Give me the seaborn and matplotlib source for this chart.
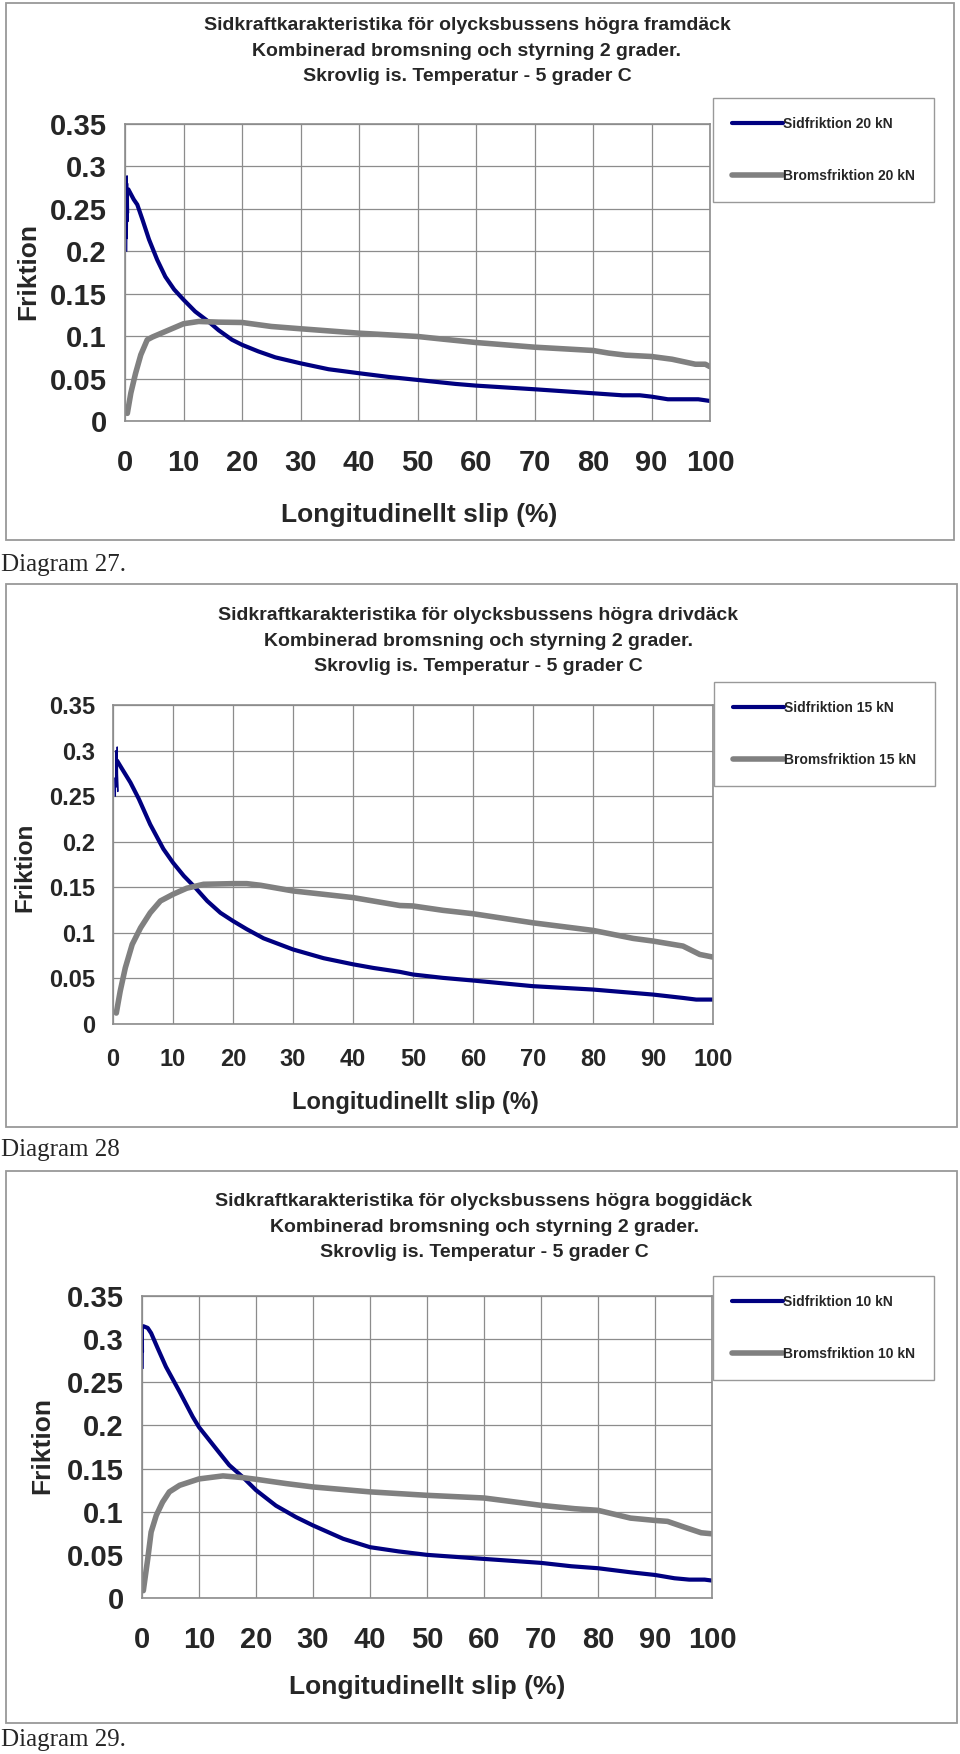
import numpy as np
import pandas as pd
import seaborn as sns
import matplotlib.pyplot as plt
from matplotlib.patches import Rectangle

# ---- data ----
titles = [
    "Sidkraftkarakteristika för olycksbussens högra framdäck\nKombinerad bromsning och styrning 2 grader.\nSkrovlig is. Temperatur - 5 grader C",
    "Sidkraftkarakteristika för olycksbussens högra drivdäck\nKombinerad bromsning och styrning 2 grader.\nSkrovlig is. Temperatur - 5 grader C",
    "Sidkraftkarakteristika för olycksbussens högra boggidäck\nKombinerad bromsning och styrning 2 grader.\nSkrovlig is. Temperatur - 5 grader C",
]
captions = ["Diagram 27.", "Diagram 28", "Diagram 29."]
loads = ["20 kN", "15 kN", "10 kN"]

x_ticks = [0, 10, 20, 30, 40, 50, 60, 70, 80, 90, 100]
y_ticks = [0, 0.05, 0.1, 0.15, 0.2, 0.25, 0.3, 0.35]
y_ticklabels = ["0", "0.05", "0.1", "0.15", "0.2", "0.25", "0.3", "0.35"]

# Diagram 27 (framdäck)
slip27_sid = [0.57, 1.5, 2.1, 3.0, 4.1, 5.5, 6.9, 8.4, 10, 12, 14.3, 16, 18.3, 20, 22.8, 25.7, 30,
              34.8, 40, 45, 50, 56.5, 60, 70, 80, 85, 88, 90, 92.8, 98, 100]
sid27 = [0.273, 0.261, 0.255, 0.237, 0.214, 0.190, 0.170, 0.155, 0.143, 0.129, 0.117, 0.107, 0.0957,
         0.0898, 0.082, 0.075, 0.068, 0.061, 0.0563, 0.052, 0.0484, 0.0437, 0.0417, 0.0374, 0.0327,
         0.0303, 0.0303, 0.0287, 0.0256, 0.0256, 0.0236]
spike27_x = [0.3, 0.35, 0.4, 0.45, 0.5, 0.55, 0.6, 0.57]
spike27_y = [0.20, 0.289, 0.215, 0.28, 0.235, 0.265, 0.245, 0.273]
slip27_broms = [0.4, 1.0, 1.8, 2.7, 3.8, 4.7, 6.9, 10, 12.6, 16, 20, 25, 30, 40, 50, 54.3, 60, 70, 80,
                82.7, 85.6, 90, 93.5, 97.5, 99.2, 100]
broms27 = [0.009, 0.033, 0.056, 0.078, 0.0957, 0.099, 0.1055, 0.1146, 0.1173, 0.1165, 0.1161, 0.1114,
           0.1087, 0.1035, 0.0996, 0.0965, 0.0925, 0.087, 0.0831, 0.080, 0.0776, 0.076, 0.0728, 0.0669,
           0.0669, 0.064]

# Diagram 28 (drivdäck)
slip28_sid = [0.67, 1.5, 2.9, 4.3, 6.2, 8.4, 10, 11.8, 13.7, 15.7, 17.9, 20, 22.3, 25.1, 30, 35.1, 40,
              43.4, 47.8, 50, 55, 60, 70, 80, 90, 95, 97.2, 100]
sid28 = [0.289, 0.280, 0.265, 0.247, 0.219, 0.192, 0.177, 0.1625, 0.1497, 0.135, 0.122, 0.113, 0.104,
         0.094, 0.0818, 0.0722, 0.0655, 0.0615, 0.0572, 0.0543, 0.0506, 0.0477, 0.0415, 0.0378, 0.0323,
         0.0286, 0.0268, 0.0268]
spike28_x = [0.3, 0.4, 0.5, 0.6, 0.7, 0.8, 0.67]
spike28_y = [0.27, 0.25, 0.30, 0.26, 0.304, 0.255, 0.289]
slip28_broms = [0.55, 1.2, 2.05, 3.2, 4.6, 6.2, 7.9, 10, 12.3, 15.1, 20, 22.3, 24.6, 30, 35.1, 40, 47.8,
                50, 55, 60, 70, 80, 86.7, 90, 95, 97.8, 100]
broms28 = [0.012, 0.036, 0.0616, 0.0873, 0.1056, 0.122, 0.135, 0.1423, 0.149, 0.1533, 0.154, 0.154,
           0.1522, 0.146, 0.1423, 0.1387, 0.130, 0.1295, 0.1247, 0.121, 0.111, 0.1027, 0.0939, 0.091,
           0.0855, 0.0763, 0.0734]

# Diagram 29 (boggidäck)
slip29_sid = [0.23, 1, 1.6, 2.75, 4.2, 6.6, 8.9, 10, 13, 15.3, 17.7, 20, 23.5, 27, 30, 35.3, 40, 45,
              50, 60, 70, 75.3, 80, 85.7, 90, 93.4, 96, 98.7, 100]
sid29 = [0.315, 0.313, 0.307, 0.2895, 0.268, 0.239, 0.210, 0.198, 0.173, 0.154, 0.140, 0.125, 0.107,
         0.0938, 0.0841, 0.0686, 0.0589, 0.054, 0.050, 0.0453, 0.0407, 0.0368, 0.0345, 0.0298, 0.0267,
         0.0229, 0.0213, 0.0213, 0.0202]
spike29_x = [0.2, 0.22, 0.25, 0.23]
spike29_y = [0.266, 0.30, 0.285, 0.315]
slip29_broms = [0.23, 1, 1.6, 2.5, 3.6, 4.8, 6.6, 10, 14.2, 17.7, 20, 25.3, 30, 40, 50, 60, 70, 75.9,
                80, 85.7, 90, 92.2, 95.1, 98.1, 100]
broms29 = [0.0085, 0.045, 0.0764, 0.0957, 0.111, 0.123, 0.1306, 0.138, 0.1415, 0.1395, 0.1376, 0.1326,
           0.1287, 0.123, 0.119, 0.1159, 0.1074, 0.1035, 0.1016, 0.0926, 0.0899, 0.0888, 0.0822,
           0.0756, 0.0744]

series = [
    (slip27_sid, sid27, spike27_x, spike27_y, slip27_broms, broms27),
    (slip28_sid, sid28, spike28_x, spike28_y, slip28_broms, broms28),
    (slip29_sid, sid29, spike29_x, spike29_y, slip29_broms, broms29),
]

# ---- layout (pixels in a 960 x 1754 canvas) ----
W, H = 960, 1754
layout = [
    dict(box=(6, 3, 954, 540), ax=(125, 124, 710, 421), leg=(713, 98), title=(467, 51),
         xlab=(419, 515), ylab=(28, 272), cap=565, tick=21, ylabsize=19, xlabsize=19, xpad=15),
    dict(box=(6, 584, 957, 1127), ax=(113, 705, 713, 1024), leg=(714, 682), title=(478, 641),
         xlab=(415, 1102), ylab=(25, 867), cap=1150, tick=17, ylabsize=17.5, xlabsize=17, xpad=12),
    dict(box=(6, 1171, 957, 1723), ax=(142, 1296, 712, 1598), leg=(713, 1276), title=(484, 1227),
         xlab=(427, 1687), ylab=(42, 1446), cap=1740, tick=21, ylabsize=19, xlabsize=19, xpad=15),
]

blue = "#000080"
grey = "#808080"
edge = "#999999"

sns.set_style("white")
narrow = ["Liberation Sans Narrow", "Liberation Sans", "DejaVu Sans"]
wide = ["Liberation Sans", "DejaVu Sans"]
serif = ["Liberation Serif", "DejaVu Serif"]
plt.rcParams["font.family"] = narrow

fig = plt.figure(figsize=(W / 100, H / 100), dpi=100)
fig.patch.set_facecolor("white")


def fx(px):
    return px / W


def fy(py):
    return 1 - py / H


for i in range(3):
    lay = layout[i]
    s_x, s_y, sp_x, sp_y, b_x, b_y = series[i]

    x0, y0, x1, y1 = lay["box"]
    fig.add_artist(Rectangle((fx(x0), fy(y1)), (x1 - x0) / W, (y1 - y0) / H,
                             transform=fig.transFigure, fill=False, ec=edge, lw=1.3))

    l, t, r, b = lay["ax"]
    ax = fig.add_axes([fx(l), fy(b), (r - l) / W, (b - t) / H])

    df_sid = pd.DataFrame({"slip": s_x, "friktion": s_y})
    df_broms = pd.DataFrame({"slip": b_x, "friktion": b_y})
    sns.lineplot(data=df_sid, x="slip", y="friktion", sort=False, estimator=None,
                 color=blue, linewidth=3.0, label="Sidfriktion " + loads[i], ax=ax)
    sns.lineplot(data=df_broms, x="slip", y="friktion", sort=False, estimator=None,
                 color=grey, linewidth=4.0, label="Bromsfriktion " + loads[i], ax=ax)
    sns.lineplot(x=sp_x, y=sp_y, sort=False, estimator=None, color=blue, linewidth=0.9, ax=ax)

    ax.set_xlim(0, 100)
    ax.set_ylim(0, 0.35)
    ax.set_xticks(x_ticks)
    ax.set_yticks(y_ticks)
    ax.set_yticklabels(y_ticklabels)
    ax.set_xlabel("")
    ax.set_ylabel("")
    ax.grid(True, color="#8c8c8c", lw=0.9)
    ax.set_axisbelow(True)
    for sp in ax.spines.values():
        sp.set_color("#8c8c8c")
        sp.set_linewidth(1.2)
    ax.tick_params(axis="x", direction="out", length=5, width=1, color="#8c8c8c",
                   labelsize=lay["tick"], pad=lay["xpad"])
    ax.tick_params(axis="y", direction="out", length=5, width=1, color="#8c8c8c",
                   labelsize=lay["tick"], pad=8)
    for lab in ax.get_xticklabels() + ax.get_yticklabels():
        lab.set_fontweight("bold")

    leg = ax.legend(loc="upper left", bbox_to_anchor=(fx(lay["leg"][0]), fy(lay["leg"][1])),
                    bbox_transform=fig.transFigure, borderaxespad=0,
                    prop=dict(family=wide, weight="bold", size=10),
                    frameon=True, fancybox=False, edgecolor=edge, framealpha=1,
                    handlelength=3.7, handletextpad=0.0, labelspacing=2.75, borderpad=1.35)
    leg.get_frame().set_linewidth(1.0)

    fig.text(fx(lay["title"][0]), fy(lay["title"][1]), titles[i], ha="center", va="center",
             fontsize=14, fontweight="bold", linespacing=1.68, family=narrow)
    fig.text(fx(lay["xlab"][0]), fy(lay["xlab"][1]), "Longitudinellt slip (%)", ha="center",
             va="center", fontsize=lay["xlabsize"], fontweight="bold", family=narrow)
    fig.text(fx(lay["ylab"][0]), fy(lay["ylab"][1]), "Friktion", rotation=90, ha="center",
             va="center", fontsize=lay["ylabsize"], fontweight="bold", family=wide)
    fig.text(fx(1), fy(lay["cap"]), captions[i], ha="left", va="center", fontsize=18,
             family=serif)

fig.savefig("out.png", dpi=100)
